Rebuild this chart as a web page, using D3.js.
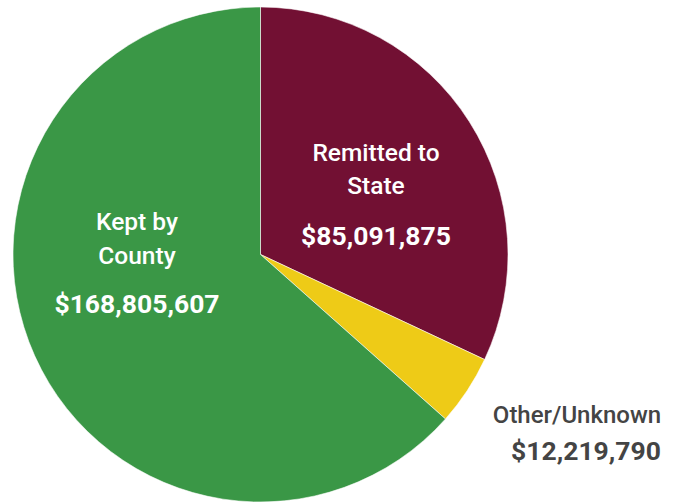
<!DOCTYPE html>
<html><head><meta charset="utf-8">
<script src="https://cdn.jsdelivr.net/npm/d3@7"></script>
<style>body{margin:0;background:#fff}svg{display:block}</style>
</head><body>
<script>
const categories = ["Remitted to State", "Other/Unknown", "Kept by County"];
const values = [85091875, 12219790, 168805607];
const colors = ["#721033", "#EECB17", "#3A9746"];
const labelLines = [["Remitted to", "State"], ["Other/Unknown"], ["Kept by", "County"]];
const valueLabels = ["$85,091,875", "$12,219,790", "$168,805,607"];

const W = 673, H = 504;
const cx = 260.5, cy = 254.5, r = 247.5;
const svg = d3.select("body").append("svg").attr("width", W).attr("height", H);
const g = svg.append("g").attr("transform", `translate(${cx},${cy})`);
const pie = d3.pie().sort(null).value(d => d)(values);
const arc = d3.arc().innerRadius(0).outerRadius(r);
g.selectAll("path").data(pie).join("path")
  .attr("d", arc).attr("fill", (d, i) => colors[i])
  .attr("stroke", "#fff").attr("stroke-width", 0.8).attr("stroke-opacity", 0.7);

const labelPos = [
  {x: 376, vx: 376, y: [161, 194], vy: 245, color: "#fff", fs: 24.5},
  {x: 577, vx: 586, y: [423], vy: 460, color: "#444", fs: 24},
  {x: 137, vx: 137, y: [230, 264], vy: 313, color: "#fff", fs: 24.5}
];
const font = "Roboto, 'Open Sans', sans-serif";
labelPos.forEach((p, i) => {
  labelLines[i].forEach((t, j) => {
    svg.append("text").attr("x", p.x).attr("y", p.y[j]).attr("text-anchor", "middle")
      .attr("font-family", font).attr("font-size", p.fs).attr("font-weight", 500)
      .attr("fill", p.color).text(t);
  });
  svg.append("text").attr("x", p.vx).attr("y", p.vy).attr("text-anchor", "middle")
    .attr("font-family", font).attr("font-size", 26.5).attr("font-weight", 700)
    .attr("fill", p.color).text(valueLabels[i]);
});
</script>
</body></html>
